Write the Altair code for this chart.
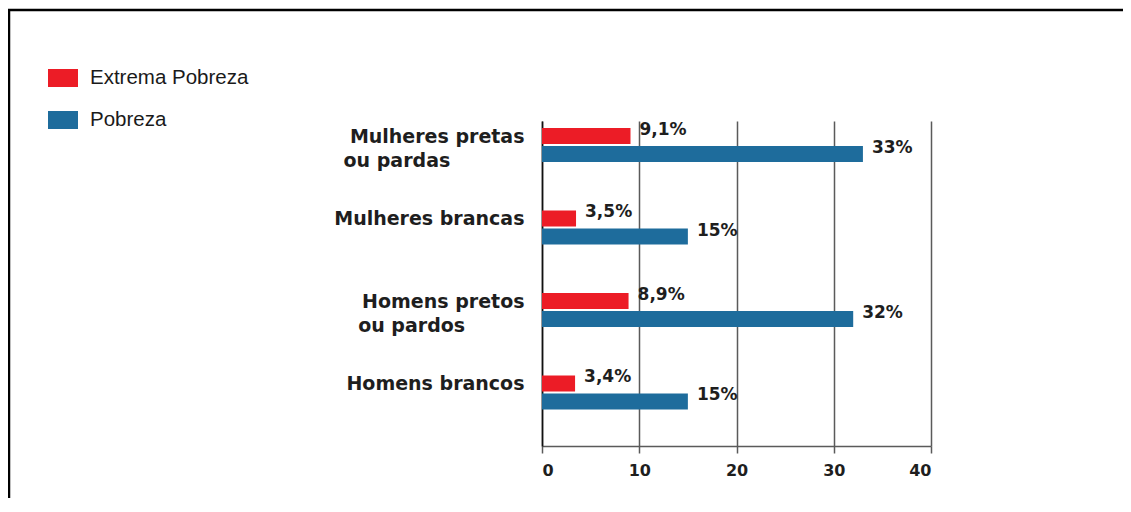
import altair as alt
import pandas as pd

# --- data ---
grupos_l1 = ["Mulheres pretas", "Mulheres brancas", "Homens pretos", "Homens brancos"]
grupos_l2 = ["ou pardas", "", "ou pardos", ""]
series = ["Extrema Pobreza", "Pobreza"]
extrema = [9.1, 3.5, 8.9, 3.4]
pobreza = [33, 15, 32, 15]
rotulos_extrema = ["9,1%", "3,5%", "8,9%", "3,4%"]
rotulos_pobreza = ["33%", "15%", "32%", "15%"]
ticks_x = [0, 10, 20, 30, 40]
cores = ["#EC1C26", "#1E6C9C"]

# blank padding glyphs (style only) so that two-line blocks look left-aligned
BLANK = "\u2800"
PAD_N = [5, 0, 4, 0]


def bloco(l1, l2, n):
    if not l2:
        return l1
    return l1 + "|" + l2 + BLANK * n


grupos = [bloco(a, b, n) for a, b, n in zip(grupos_l1, grupos_l2, PAD_N)]

rows = []
for g, e, p, re_, rp in zip(grupos, extrema, pobreza, rotulos_extrema, rotulos_pobreza):
    rows.append({"grupo": g, "serie": series[0], "valor": e, "rotulo": re_})
    rows.append({"grupo": g, "serie": series[1], "valor": p, "rotulo": rp})
df = pd.DataFrame(rows)

FONT = "DejaVu Sans"

y_enc = alt.Y(
    "grupo:N",
    sort=grupos,
    scale=alt.Scale(paddingInner=0.588, paddingOuter=0.264, align=0.161),
    axis=alt.Axis(
        title=None,
        labelExpr="split(datum.label, '|')",
        labelFont=FONT,
        labelFontWeight="bold",
        labelFontSize=19,
        labelColor="#1e1e1e",
        labelLineHeight=24,
        labelPadding=18,
        labelOffset=-8,
        labelBaseline="middle",
        ticks=False,
        domainColor="#111",
        domainWidth=1.6,
        grid=False,
        labelLimit=400,
    ),
)
yoff_enc = alt.YOffset("serie:N", sort=series, scale=alt.Scale(paddingInner=0.118, paddingOuter=0))
x_enc = alt.X(
    "valor:Q",
    scale=alt.Scale(domain=[0, 40], nice=False, zero=True),
    axis=alt.Axis(
        title=None,
        values=ticks_x,
        format="d",
        grid=True,
        gridColor="#5a5a5a",
        gridWidth=1.5,
        domainColor="#5a5a5a",
        domainWidth=1.5,
        tickColor="#5a5a5a",
        tickWidth=1.5,
        tickSize=7,
        labelFont=FONT,
        labelFontWeight="bold",
        labelFontSize=16,
        labelColor="#1e1e1e",
        labelPadding=9,
    ),
)

base = alt.Chart(df)

bars = base.mark_bar(size=16).encode(
    x=x_enc,
    y=y_enc,
    yOffset=yoff_enc,
    color=alt.Color(
        "serie:N",
        sort=series,
        scale=alt.Scale(domain=series, range=cores),
        legend=alt.Legend(
            title=None,
            orient="none",
            legendX=-494,
            legendY=-58,
            symbolType="M-1,-0.6H1V0.6H-1Z",
            symbolSize=900,
            symbolStrokeWidth=0,
            symbolOpacity=1,
            labelFont="Liberation Sans",
            labelFontSize=20.5,
            labelColor="#1a1a1a",
            labelOffset=12,
            rowPadding=16,
            padding=0,
        ),
    ),
)

texts = base.mark_text(
    align="left", baseline="middle", dx=9, dy=-6,
    font=FONT, fontWeight="bold", fontSize=17, color="#1e1e1e",
).encode(
    x="valor:Q",
    y=alt.Y("grupo:N", sort=grupos),
    yOffset=alt.YOffset("serie:N", sort=series),
    text="rotulo:N",
)

frame_data = alt.Data(values=[{}])
frame_top = alt.Chart(frame_data).mark_rule(color="#000", strokeWidth=2.5).encode(
    x=alt.value(-534), x2=alt.value(700), y=alt.value(-111)
)
frame_left = alt.Chart(frame_data).mark_rule(color="#000", strokeWidth=2.5).encode(
    x=alt.value(-533), y=alt.value(-112), y2=alt.value(500)
)

chart = alt.layer(bars, texts, frame_top, frame_left).properties(
    width=389,
    height=325,
    padding={"left": 534, "top": 113, "right": 192, "bottom": 52},
    autosize=alt.AutoSizeParams(type="none"),
    background="white",
).configure_view(stroke=None)

chart.save("out.html", embed_options={"renderer": "svg", "actions": False})
